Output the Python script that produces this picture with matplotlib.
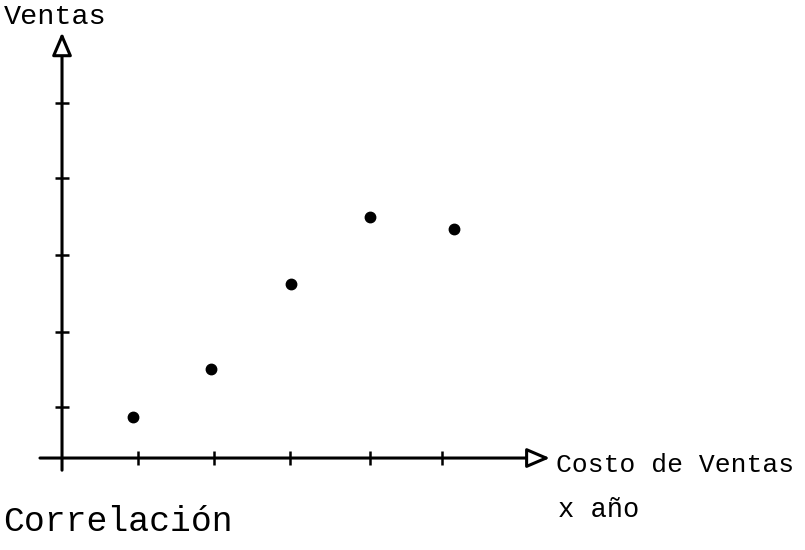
import matplotlib
matplotlib.use("Agg")
import matplotlib.pyplot as plt

# hand-drawn scatter: "Ventas" vs "Costo de Ventas x año"
costo = [0.93, 1.96, 3.01, 4.05, 5.16]
ventas = [0.54, 1.17, 2.29, 3.17, 3.01]
x_ticks = [1.0, 2.0, 3.0, 4.05, 5.0]
y_ticks = [0.67, 1.66, 2.67, 3.68, 4.67]

FONT = ["Liberation Mono", "DejaVu Sans Mono"]

fig = plt.figure(figsize=(8.05, 5.5), dpi=100)
ax = fig.add_axes([0, 0, 1, 1])
ax.set_xlim(-0.816, 9.776)
ax.set_ylim(-1.21, 6.026)
ax.axis("off")

# axes drawn as arrows with open triangular heads
arrow = dict(arrowstyle="-|>,head_length=1.4,head_width=0.6", fc="white",
             ec="black", lw=2.2, shrinkA=0, shrinkB=0)
ax.annotate("", xy=(0, 5.6), xytext=(0, -0.16), arrowprops=arrow)
ax.annotate("", xy=(6.42, 0), xytext=(-0.29, 0), arrowprops=arrow)

# little cross ticks
ax.plot(x_ticks, [0] * len(x_ticks), ls="none", marker="|", ms=10, mew=1.8, color="black")
ax.plot([0] * len(y_ticks), y_ticks, ls="none", marker="_", ms=10, mew=1.8, color="black")

ax.plot(costo, ventas, ls="none", marker="o", ms=7.5, color="black")

ax.text(-0.77, 5.8, "Ventas", family=FONT, fontsize=20.5, va="center", ha="left")
ax.text(6.5, -0.09, "Costo de Ventas", family=FONT, fontsize=19, va="center", ha="left")
ax.text(6.53, -0.68, "x año", family=FONT, fontsize=19.5, va="center", ha="left")
ax.text(-0.77, -0.84, "Correlación", family=FONT, fontsize=25, va="center", ha="left")

fig.savefig("out.png", dpi=100, facecolor="white")
